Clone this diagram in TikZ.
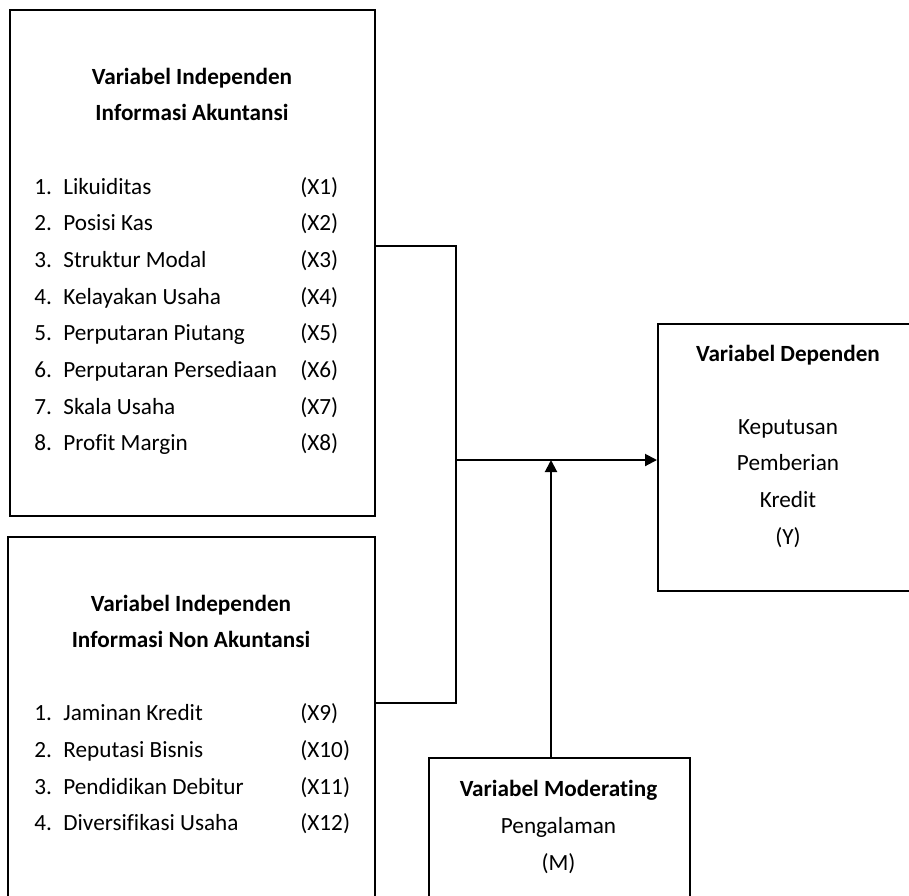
\documentclass[tikz,border=0pt]{standalone}
\usepackage{fontspec}
\setmainfont{Carlito}[Ligatures={NoCommon,NoContextual}]
\usetikzlibrary{arrows.meta}
\begin{document}
\begin{tikzpicture}[x=0.5pt,y=-0.5pt,
  box/.style={draw,line width=1pt,inner sep=0pt,anchor=north west},
  txt/.style={inner sep=0pt,anchor=base,font=\fontsize{11.6}{13}\selectfont},
  head/.style={txt,font=\fontsize{11.6}{13}\selectfont\bfseries},
  lft/.style={txt,anchor=base west},
  conn/.style={line width=1pt},
  arr/.style={conn,-{Triangle[length=6pt,width=6pt]}}]
\useasboundingbox (0,0) rectangle (909,895);
\clip (0,0) rectangle (909,895);
% boxes
\node[box,minimum width=182.5pt,minimum height=253pt] (A) at (9,9) {};
\node[box,minimum width=183.5pt,minimum height=197pt] (B) at (7,536) {};
\node[box,minimum width=141.5pt,minimum height=133.5pt] (Y) at (657,323) {};
\node[box,minimum width=130.5pt,minimum height=86.5pt] (M) at (428,757) {};
% box A text
\node[head] (ah1) at (192,84) {Variabel Independen};
\node[head] (ah2) at (192,120.5) {Informasi Akuntansi};
\foreach \t/\c [count=\i] in {Likuiditas/X1,Posisi Kas/X2,Struktur Modal/X3,Kelayakan Usaha/X4,Perputaran Piutang/X5,Perputaran Persediaan/X6,Skala Usaha/X7,Profit Margin/X8}{
  \node[lft] (an\i) at (34,{194+36.7*(\i-1)}) {\i.};
  \node[lft] (at\i) at (63,{194+36.7*(\i-1)}) {\t};
  \node[lft] (ac\i) at (300,{194+36.7*(\i-1)}) {(\c)};
}
% box B text
\node[head] (bh1) at (191,611.5) {Variabel Independen};
\node[head] (bh2) at (191,647) {Informasi Non Akuntansi};
\foreach \t/\c [count=\i] in {Jaminan Kredit/X9,Reputasi Bisnis/X10,Pendidikan Debitur/X11,Diversifikasi Usaha/X12}{
  \node[lft] (bn\i) at (34,{720.7+36.7*(\i-1)}) {\i.};
  \node[lft] (bt\i) at (63,{720.7+36.7*(\i-1)}) {\t};
  \node[lft] (bc\i) at (300,{720.7+36.7*(\i-1)}) {(\c)};
}
% box Y text
\node[head] (yh) at (788,361.5) {Variabel Dependen};
\node[txt] (y1) at (788,434) {Keputusan};
\node[txt] (y2) at (788,470.7) {Pemberian};
\node[txt] (y3) at (788,507.4) {Kredit};
\node[txt] (y4) at (788,544) {(Y)};
% box M text
\node[head] (mh) at (558.5,796.5) {Variabel Moderating};
\node[txt] (m1) at (558.5,833.3) {Pengalaman};
\node[txt] (m2) at (558.5,870) {(M)};
% connectors
\coordinate (j1) at (456,246);
\coordinate (j2) at (456,703);
\coordinate (j3) at (456,460);
\coordinate (j4) at (551,460);
\draw[conn] (A.east |- j1) -- (j1) -- (j2) -- (B.east |- j2);
\draw[arr] (j3) -- (Y.west |- j3);
\draw[arr] (M.north -| j4) -- (j4);
\end{tikzpicture}
\end{document}
